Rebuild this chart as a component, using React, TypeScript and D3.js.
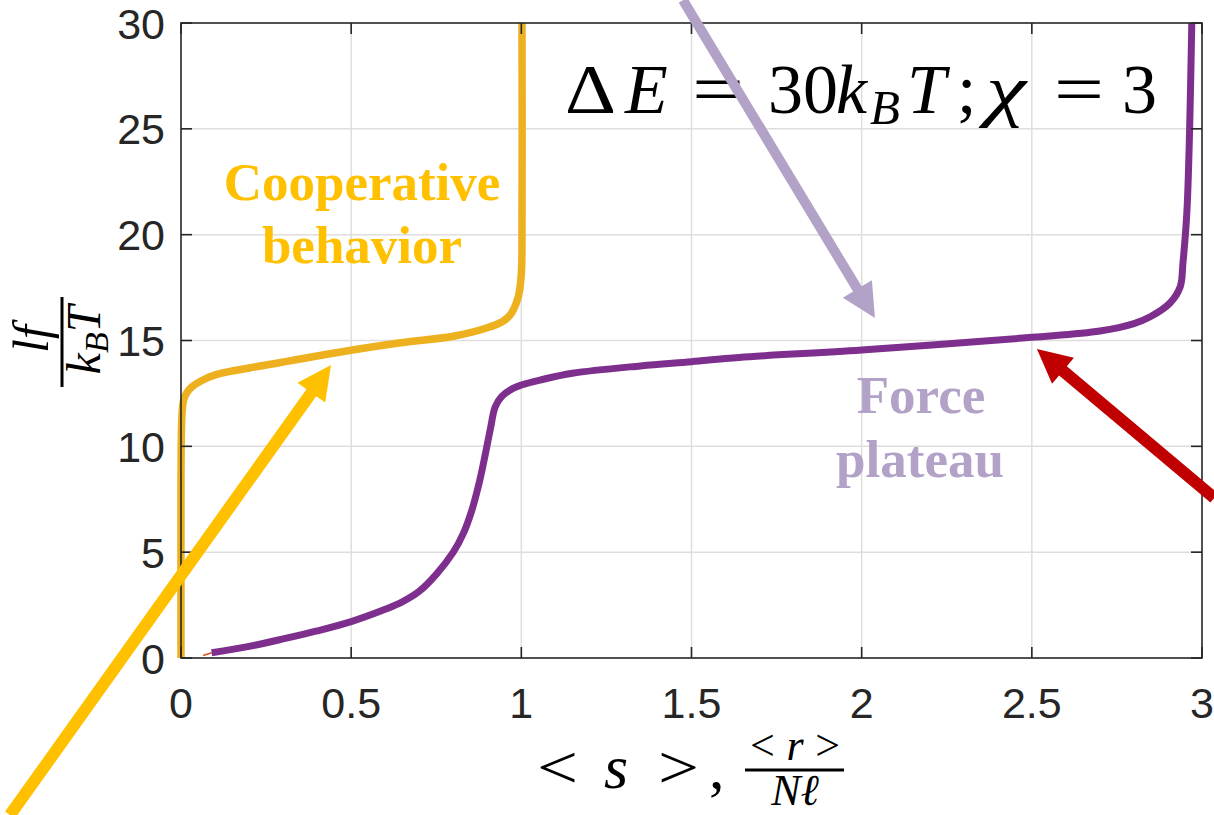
import React from "react"
import * as d3 from "d3"

const xTicks = [0, 0.5, 1, 1.5, 2, 2.5, 3]
const yTicks = [0, 5, 10, 15, 20, 25, 30]

// cooperative (gold) curve: <s> vs lf/kBT
const coopS = [0, 0, 0.001, 0.003, 0.008, 0.018, 0.031, 0.06, 0.105, 0.25, 0.447, 0.64, 0.8, 0.9, 0.945, 0.967, 0.991, 1.0, 1.002, 1.002]
const coopF = [0, 8, 10.5, 11.5, 12.2, 12.55, 12.8, 13.1, 13.4, 13.84, 14.4, 14.88, 15.2, 15.6, 15.9, 16.2, 17.07, 18.17, 20.2, 30]

// plateau (purple) curve: <r>/Nl vs lf/kBT
const plateauR = [0.09, 0.2, 0.3, 0.4, 0.5, 0.6, 0.65, 0.7, 0.75, 0.8, 0.83, 0.855, 0.875, 0.89, 0.9, 0.91, 0.923, 0.942, 0.977, 1.0, 1.055, 1.15, 1.35, 1.5, 1.64, 2.0, 2.5, 2.7, 2.8, 2.848, 2.906, 2.936, 2.944, 2.956, 2.97]
const plateauF = [0.25, 0.55, 0.9, 1.28, 1.72, 2.3, 2.65, 3.15, 3.95, 5.0, 5.9, 7.0, 8.2, 9.3, 10.1, 10.9, 11.86, 12.35, 12.75, 12.9, 13.13, 13.45, 13.8, 14.0, 14.2, 14.55, 15.15, 15.45, 15.8, 16.12, 16.77, 17.54, 18.66, 21.2, 30]

// short red stub near the origin
const stubR = [0.065, 0.09]
const stubF = [0.12, 0.25]

// annotation arrows, data units: [from, to]
const arrowColors = ["#FFC000", "#B3A2C7", "#C00000"]
const arrowFrom = [[-0.5025, -7.42], [1.475, 31.08], [3.036, 7.56]]
const arrowTo = [[0.441, 13.84], [2.039, 16.06], [2.515, 14.6]]
const arrowShaft = [12, 10, 12]

const W = 1214
const H = 815
const margin = { left: 181, right: W - 1202, top: 23, bottom: H - 658 }

function arrowPath(x0: number, y0: number, x1: number, y1: number, shaft: number, headLen = 34, headHalf = 17) {
  const dx = x1 - x0
  const dy = y1 - y0
  const len = Math.hypot(dx, dy)
  const ux = dx / len
  const uy = dy / len
  const nx = -uy
  const ny = ux
  const bx = x1 - ux * headLen
  const by = y1 - uy * headLen
  const s = shaft / 2
  const pts = [
    [x0 + nx * s, y0 + ny * s],
    [bx + nx * s, by + ny * s],
    [bx + nx * headHalf, by + ny * headHalf],
    [x1, y1],
    [bx - nx * headHalf, by - ny * headHalf],
    [bx - nx * s, by - ny * s],
    [x0 - nx * s, y0 - ny * s],
  ]
  return "M" + pts.map((p) => p.join(",")).join("L") + "Z"
}

export default function App() {
  const x = d3.scaleLinear().domain([0, 3]).range([margin.left, W - margin.right])
  const y = d3.scaleLinear().domain([0, 30]).range([H - margin.bottom, margin.top])

  const line = d3
    .line<[number, number]>()
    .x((d) => x(d[0]))
    .y((d) => y(d[1]))
    .curve(d3.curveCatmullRom.alpha(0.5))

  const coop = line(coopS.map((s, i) => [s, coopF[i]]))
  const plateau = line(plateauR.map((r, i) => [r, plateauF[i]]))
  const stub = d3.line<[number, number]>().x((d) => x(d[0])).y((d) => y(d[1]))(stubR.map((r, i) => [r, stubF[i]]))

  const x0 = x(0)
  const x3 = x(3)
  const y0 = y(0)
  const y30 = y(30)
  const tick = 11
  const axisColor = "#262626"
  const math = "'Liberation Serif', 'DejaVu Serif', serif"

  return (
    <svg width={W} height={H} style={{ position: "absolute", left: 0, top: 0, background: "#fff" }}>
      <rect width={W} height={H} fill="#fff" />
      {/* grid */}
      <g stroke="#dedede" strokeWidth={1.5}>
        {xTicks.slice(1, -1).map((t) => (
          <line key={"gx" + t} x1={x(t)} x2={x(t)} y1={y0} y2={y30} />
        ))}
        {yTicks.slice(1, -1).map((t) => (
          <line key={"gy" + t} x1={x0} x2={x3} y1={y(t)} y2={y(t)} />
        ))}
      </g>

      {/* curves */}
      <path d={stub ?? ""} fill="none" stroke="#D95319" strokeWidth={1.5} />
      <path d={coop ?? ""} fill="none" stroke="#EDB120" strokeWidth={7.5} />
      <path d={plateau ?? ""} fill="none" stroke="#7E2F8E" strokeWidth={7} />

      {/* axes box + inward ticks */}
      <rect x={x0} y={y30} width={x3 - x0} height={y0 - y30} fill="none" stroke={axisColor} strokeWidth={1.6} />
      <g stroke={axisColor} strokeWidth={1.6}>
        {xTicks.map((t) => (
          <g key={"tx" + t}>
            <line x1={x(t)} x2={x(t)} y1={y0} y2={y0 - tick} />
            <line x1={x(t)} x2={x(t)} y1={y30} y2={y30 + tick} />
          </g>
        ))}
        {yTicks.map((t) => (
          <g key={"ty" + t}>
            <line x1={x0} x2={x0 + tick} y1={y(t)} y2={y(t)} />
            <line x1={x3} x2={x3 - tick} y1={y(t)} y2={y(t)} />
          </g>
        ))}
      </g>

      {/* tick labels */}
      <g fontFamily="'Liberation Sans', Arial, sans-serif" fontSize={43} fill={axisColor}>
        {xTicks.map((t) => (
          <text key={"lx" + t} x={x(t)} y={y0 + 60} textAnchor="middle">
            {String(t)}
          </text>
        ))}
        {yTicks.map((t) => (
          <text key={"ly" + t} x={x0 - 16} y={y(t) + 15.5} textAnchor="end">
            {String(t)}
          </text>
        ))}
      </g>

      {/* x label: < s >, <r>/(N l) */}
      <g fontFamily={math} fill="#000">
        <text x={537} y={788} fontSize={62} textLength={41} lengthAdjust="spacingAndGlyphs">&lt;</text>
        <text x={604} y={788} fontSize={62} fontStyle="italic">s</text>
        <text x={658} y={788} fontSize={62} textLength={41} lengthAdjust="spacingAndGlyphs">&gt;</text>
        <text x={709} y={788} fontSize={62}>,</text>
        <text x={750} y={760} fontSize={44} textLength={90} lengthAdjust="spacing">
          &lt;<tspan fontStyle="italic">r</tspan>&gt;
        </text>
        <line x1={745} x2={844} y1={770} y2={770} stroke="#000" strokeWidth={3} />
        <text x={795} y={805} fontSize={44} textAnchor="middle" fontStyle="italic">
          N{"\u2113"}
        </text>
      </g>

      {/* y label: lf / kB T */}
      <g transform="translate(62,342) rotate(-90)" fontFamily={math} fill="#000" fontStyle="italic">
        <text x={3} y={-14} fontSize={50} textAnchor="middle">
          lf
        </text>
        <line x1={-45} x2={45} y1={0} y2={0} stroke="#000" strokeWidth={3} />
        <text x={2} y={38} fontSize={48} textAnchor="middle">
          k<tspan fontSize={34} dy={8}>B</tspan>
          <tspan dy={-8}>T</tspan>
        </text>
      </g>

      {/* parameter label */}
      <g fontFamily={math} fill="#000" fontSize={70}>
        <text x={565} y={113} textLength={51} lengthAdjust="spacingAndGlyphs">{"\u0394"}</text>
        <text x={625} y={113} fontStyle="italic">E</text>
        <text x={692} y={113} textLength={52} lengthAdjust="spacingAndGlyphs">=</text>
        <text x={768} y={113}>30</text>
        <text x={836} y={113} fontStyle="italic">k</text>
        <text x={870} y={124} fontSize={49} fontStyle="italic">B</text>
        <text x={907} y={113} fontStyle="italic">T</text>
        <text x={957} y={113}>;</text>
        <text x={986} y={113} fontStyle="italic" textLength={40} lengthAdjust="spacingAndGlyphs">{"\u03C7"}</text>
        <text x={1054} y={113} textLength={50} lengthAdjust="spacingAndGlyphs">=</text>
        <text x={1122} y={113}>3</text>
      </g>

      {/* annotation text */}
      <g fontFamily="'Liberation Serif', 'Times New Roman', serif" fontWeight="bold" fontSize={53} textAnchor="middle">
        <text x={362} y={200} fill="#FFC000">Cooperative</text>
        <text x={362} y={263} fill="#FFC000">behavior</text>
        <text x={921} y={413} fill="#B3A2C7">Force</text>
        <text x={920} y={477} fill="#B3A2C7">plateau</text>
      </g>

      {/* arrows */}
      {arrowColors.map((c, i) => (
        <path
          key={"arrow" + i}
          d={arrowPath(x(arrowFrom[i][0]), y(arrowFrom[i][1]), x(arrowTo[i][0]), y(arrowTo[i][1]), arrowShaft[i])}
          fill={c}
        />
      ))}
    </svg>
  )
}
